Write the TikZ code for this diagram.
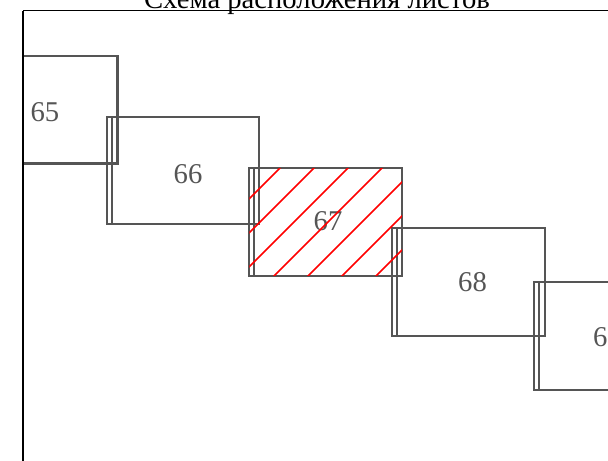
\documentclass[tikz,border=0pt]{standalone}
\usepackage{fontspec}
\setmainfont{Liberation Serif}
\definecolor{sheetgray}{HTML}{555555}
\definecolor{hatchred}{HTML}{FF0000}
\tikzset{
  sheetline/.style={draw=sheetgray,line width=1.6pt},
  sheetnum/.style={text=sheetgray,inner sep=0pt,font=\fontsize{21.5}{25}\selectfont},
  frameline/.style={draw=black,line width=1.1pt},
  hatchline/.style={draw=hatchred,line width=1.1pt}
}

\begin{document}
\begin{tikzpicture}[x=0.75pt,y=-0.75pt]
  \useasboundingbox (0,0) rectangle (608,461);
  \clip (0,0) rectangle (608,461);

  % title, cut by the top edge
  \node[anchor=base,inner sep=0pt,font=\fontsize{21.5}{25}\selectfont]
    (title) at (317,8) {Схема расположения листов};

  % sheets inside the frame: number / left x / top y / label x / label y
  \begin{scope}
    \clip (23,10.5) rectangle (620,470);
    \foreach \n/\x/\y/\lx/\ly in {65/-35/56/45/112,
                                  66/106.7/116.7/188/174.5,
                                  67/249.3/168.3/328/221,
                                  68/392.3/228.3/472.5/282,
                                  69/534/282.3/607.5/337} {
      \draw[sheetline] (\x,\y) rectangle ++(152.5,107.5);
      \draw[sheetline] (\x+5,\y) -- ++(0,107.5);
      \node[sheetnum] (s\n) at (\lx,\ly) {\n};
    }
  \end{scope}

  % hatching of the current sheet
  \begin{scope}
    \clip (249.3,168.3) rectangle ++(152.5,107.5);
    \foreach \c in {448,482,516,550,584,618,652} {
      \draw[hatchline] (\c-140,140) -- (\c-310,310);
    }
  \end{scope}

  % frame
  \coordinate (fTL) at (23,10.5);
  \draw[frameline] (fTL) -- (620,10.5);
  \draw[frameline] (fTL) -- (23,470);
\end{tikzpicture}
\end{document}
